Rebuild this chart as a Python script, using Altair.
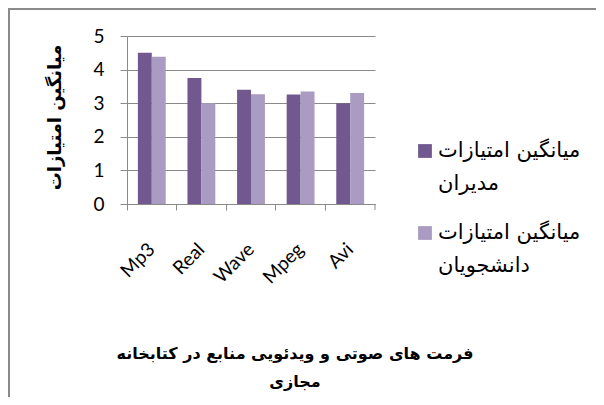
import altair as alt
import pandas as pd

categories = ["Mp3", "Real", "Wave", "Mpeg", "Avi"]
series = ["میانگین امتیازات مدیران", "میانگین امتیازات دانشجویان"]
managers = [4.5, 3.75, 3.4, 3.26, 3.0]
students = [4.38, 3.0, 3.27, 3.35, 3.3]
colors = ["#71588F", "#A99BC1"]
y_title = "میانگین امتیازات"
chart_title = "فرمت های صوتی و ویدئویی منابع در کتابخانه\nمجازی"

rows = []
for i, c in enumerate(categories):
    rows.append({"cat": c, "series": series[0], "value": managers[i]})
    rows.append({"cat": c, "series": series[1], "value": students[i]})
df = pd.DataFrame(rows)

leg = pd.DataFrame({
    "series": series,
    "line1": [" ".join(s.split(" ")[:2]) for s in series],
    "line2": [" ".join(s.split(" ")[2:]) for s in series],
})

W, H = 248, 168
grid = "#8A8A8A"
AR = "DejaVu Sans"

bars = alt.Chart(df).mark_bar(stroke=None).encode(
    x=alt.X("cat:N", sort=categories,
            scale=alt.Scale(paddingInner=0, paddingOuter=0),
            axis=alt.Axis(title=None, labelAngle=-45, labelFontSize=19, labelFont="Lato",
                          labelColor="#000", domainColor=grid, tickColor=grid,
                          bandPosition=0, tickSize=6, labelPadding=36,
                          grid=False, labelAlign="right", labelBaseline="middle")),
    xOffset=alt.XOffset("series:N", sort=series,
                        scale=alt.Scale(paddingInner=0, paddingOuter=0.78)),
    y=alt.Y("value:Q", scale=alt.Scale(domain=[0, 5]),
            axis=alt.Axis(title=y_title, values=[0, 1, 2, 3, 4, 5], labelFontSize=19,
                          labelFont="Lato", labelColor="#000", domainColor=grid,
                          tickColor=grid, gridColor=grid, tickSize=7, labelPadding=16,
                          titleFont=AR, titleFontSize=18, titleFontWeight="bold",
                          titleColor="#000", titleX=-72, titleY=H / 2 - 3, titleAngle=270,
                          titleAlign="center", titleBaseline="middle")),
    color=alt.Color("series:N", sort=series,
                    scale=alt.Scale(domain=series, range=colors), legend=None),
)

leg_y = alt.Y("series:N", sort=series,
              scale=alt.Scale(type="point", padding=0, domain=series, range=[115, 197]),
              axis=None)

leg_sq = alt.Chart(leg).mark_square(size=190, opacity=1).encode(
    x=alt.value(298), y=leg_y, color=alt.Color("series:N", sort=series, legend=None))
leg_t1 = alt.Chart(leg).mark_text(align="left", baseline="middle", font=AR, fontSize=21,
                                  color="#000").encode(
    x=alt.value(311), y=leg_y, text="line1:N")
leg_t2 = alt.Chart(leg).mark_text(align="left", baseline="middle", font=AR, fontSize=21,
                                  color="#000", dy=33).encode(
    x=alt.value(311), y=leg_y, text="line2:N")

frame = alt.Chart(alt.Data(values=[{}])).mark_rect(
    filled=False, stroke="#8A8A8A", strokeWidth=2
).encode(x=alt.value(-118), y=alt.value(-27), x2=alt.value(600), y2=alt.value(400))

end_tick = alt.Chart(alt.Data(values=[{}])).mark_rule(color=grid).encode(
    x=alt.value(W), y=alt.value(H), y2=alt.value(H + 6))

title = alt.Chart(alt.Data(values=[{"t": chart_title}])).mark_text(
    align="center", baseline="top", font=AR, fontSize=16, fontWeight="bold",
    color="#000", lineBreak="\n", lineHeight=28
).encode(x=alt.value(168), y=alt.value(310), text="t:N")

legend_layer = alt.layer(leg_sq, leg_t1, leg_t2)

chart = alt.layer(frame, bars, end_tick, legend_layer, title).resolve_scale(
    y="independent"
).properties(
    width=W, height=H,
    padding={"left": 119, "top": 28, "right": 221, "bottom": 193},
    autosize=alt.AutoSizeParams(type="none"),
).configure_view(stroke=None).configure_axis(gridWidth=1, domainWidth=1)

chart.save("out.html", embed_options={"renderer": "svg", "actions": False})
